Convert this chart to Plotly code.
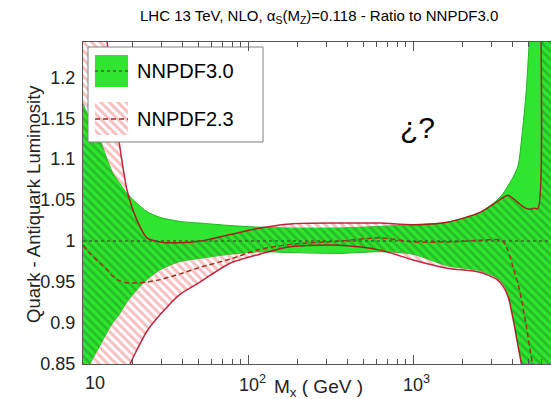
import numpy as np
import plotly.graph_objects as go

# Invariant mass grid (GeV)
mass = [10, 11.0, 12.7, 14.0, 15.0, 16.5, 18.5, 21.3, 24.4, 29.3, 38.7, 51.2,
        77.8, 118, 180, 361, 631, 1000, 1607, 2547, 3228, 3510, 3770, 4040,
        4330, 4580, 4840, 5120, 5410, 5720, 5970, 7500]

# NNPDF3.0 band (ratio to itself)
nnpdf30_lo = [0.830, 0.850, 0.873, 0.889, 0.899, 0.910, 0.926, 0.941, 0.953, 0.965, 0.975, 0.979,
              0.984, 0.987, 0.986, 0.985, 0.987, 0.984, 0.970, 0.964, 0.955, 0.948, 0.935, 0.908,
              0.875, 0.850, 0.820, 0.790, 0.750, 0.700, 0.650, 0.600]
nnpdf30_hi = [1.168, 1.148, 1.123, 1.100, 1.085, 1.072, 1.058, 1.046, 1.036, 1.029, 1.024, 1.022,
              1.019, 1.017, 1.016, 1.016, 1.018, 1.020, 1.023, 1.035, 1.050, 1.058, 1.068, 1.078,
              1.092, 1.130, 1.180, 1.260, 1.350, 1.450, 1.550, 1.700]
nnpdf30_cv = [1.0, 1.0, 1.0, 1.0, 1.0, 1.0, 1.0, 1.0, 1.0, 1.0, 1.0, 1.0,
              1.0, 1.0, 1.0, 1.0, 1.0, 1.0, 1.0, 1.0, 1.0, 1.0, 1.0, 1.0,
              1.0, 1.0, 1.0, 1.0, 1.0, 1.0, 1.0, 1.0]

# NNPDF2.3 band
nnpdf23_lo = [0.720, 0.740, 0.770, 0.790, 0.805, 0.820, 0.842, 0.868, 0.890, 0.910, 0.935, 0.950,
              0.973, 0.984, 0.993, 0.995, 0.989, 0.977, 0.967, 0.962, 0.953, 0.945, 0.932, 0.905,
              0.872, 0.845, 0.800, 0.760, 0.720, 0.680, 0.650, 0.600]
nnpdf23_hi = [1.400, 1.360, 1.300, 1.243, 1.180, 1.123, 1.062, 1.025, 1.004, 0.999, 0.998, 1.000,
              1.008, 1.016, 1.021, 1.022, 1.022, 1.020, 1.023, 1.035, 1.048, 1.053, 1.056, 1.052,
              1.047, 1.043, 1.040, 1.039, 1.040, 1.040, 1.450, 1.700]
nnpdf23_cv = [0.995, 0.985, 0.973, 0.965, 0.958, 0.952, 0.949, 0.949, 0.950, 0.953, 0.960, 0.968,
              0.978, 0.990, 0.996, 1.000, 1.004, 0.999, 0.999, 1.001, 1.002, 1.000, 0.988, 0.968,
              0.948, 0.925, 0.898, 0.868, 0.840, 0.810, 0.790, 0.750]

x_ticks = [10, 100, 1000]
x_minor = [20, 30, 40, 50, 60, 70, 80, 90, 200, 300, 400, 500, 600, 700, 800, 900,
           2000, 3000, 4000, 5000, 6000]
y_ticks = [0.85, 0.9, 0.95, 1.0, 1.05, 1.1, 1.15, 1.2]
y_text = ["0.85", "0.9", "0.95", "1", "1.05", "1.1", "1.15", "1.2"]

GREEN = "#2fe52f"
DKGREEN = "#1c951c"
PINK = "#ee7f7f"
REDLINE = "rgba(185,0,30,0.85)"
FONT = "Arial, Liberation Sans, sans-serif"
SMOOTH = dict(shape="spline", smoothing=0.7)

# overlap of the two bands
ov_lo = np.maximum(nnpdf30_lo, nnpdf23_lo)
ov_hi = np.minimum(nnpdf30_hi, nnpdf23_hi)
ov_hi = np.where(ov_hi < ov_lo, ov_lo, ov_hi)

fig = go.Figure()

# NNPDF3.0 solid band
fig.add_trace(go.Scatter(x=mass, y=nnpdf30_lo, mode="lines",
                         line=dict(color="#22b522", width=1, **SMOOTH), showlegend=False))
fig.add_trace(go.Scatter(x=mass, y=nnpdf30_hi, mode="lines", fill="tonexty",
                         fillcolor=GREEN, line=dict(color="#22b522", width=1, **SMOOTH),
                         showlegend=False))

# NNPDF2.3 hatched band
fig.add_trace(go.Scatter(x=mass, y=nnpdf23_lo, mode="lines",
                         line=dict(width=0, **SMOOTH), showlegend=False))
fig.add_trace(go.Scatter(x=mass, y=nnpdf23_hi, mode="lines", fill="tonexty",
                         fillcolor="rgba(0,0,0,0)", line=dict(width=0, **SMOOTH),
                         fillpattern=dict(shape="\\", fgcolor=PINK, bgcolor="rgba(0,0,0,0)",
                                          size=6, solidity=0.5),
                         showlegend=False))

# hatching on top of the green where the bands overlap
fig.add_trace(go.Scatter(x=mass, y=ov_lo, mode="lines",
                         line=dict(width=0, **SMOOTH), showlegend=False))
fig.add_trace(go.Scatter(x=mass, y=ov_hi, mode="lines", fill="tonexty",
                         fillcolor=GREEN, line=dict(width=0, **SMOOTH),
                         fillpattern=dict(shape="\\", fgcolor=DKGREEN, bgcolor=GREEN,
                                          size=6, solidity=0.45),
                         showlegend=False))

# NNPDF2.3 band edges
for edge in (nnpdf23_lo, nnpdf23_hi):
    fig.add_trace(go.Scatter(x=mass, y=edge, mode="lines",
                             line=dict(color=REDLINE, width=1.5, **SMOOTH), showlegend=False))

# central values
fig.add_trace(go.Scatter(x=mass, y=nnpdf30_cv, mode="lines",
                         line=dict(color="#3a6a2a", width=1.5, dash="dot"), showlegend=False))
fig.add_trace(go.Scatter(x=mass, y=nnpdf23_cv, mode="lines",
                         line=dict(color="#a3301c", width=1.5, dash="5px,3px", **SMOOTH),
                         showlegend=False))

# legend drawn on an overlay frame measured in pixels from the plot's top-left corner
fig.add_trace(go.Scatter(x=[5, 180, 180, 5, 5], y=[5, 5, 100, 100, 5], mode="lines",
                         fill="toself", fillcolor="white", line=dict(color="#808080", width=1),
                         xaxis="x2", yaxis="y2", showlegend=False))
fig.add_trace(go.Scatter(x=[12, 45, 45, 12, 12], y=[13, 13, 45, 45, 13], mode="lines",
                         fill="toself", fillcolor=GREEN, line=dict(width=0),
                         xaxis="x2", yaxis="y2", showlegend=False))
fig.add_trace(go.Scatter(x=[12, 45], y=[29, 29], mode="lines",
                         line=dict(color="#3a6a2a", width=1.5, dash="dot"),
                         xaxis="x2", yaxis="y2", showlegend=False))
fig.add_trace(go.Scatter(x=[12, 45, 45, 12, 12], y=[60, 60, 93, 93, 60], mode="lines",
                         fill="toself", fillcolor="rgba(0,0,0,0)", line=dict(width=0),
                         fillpattern=dict(shape="\\", fgcolor=PINK, bgcolor="rgba(0,0,0,0)",
                                          size=6, solidity=0.5),
                         xaxis="x2", yaxis="y2", showlegend=False))
fig.add_trace(go.Scatter(x=[12, 45], y=[77, 77], mode="lines",
                         line=dict(color="#b0202a", width=1.5, dash="5px,3px"),
                         xaxis="x2", yaxis="y2", showlegend=False))

W, H = 551, 399
L, R, T, B = 83, 0, 42, 35
pw, ph = W - L - R, H - T - B

annotations = [
    dict(text="NNPDF3.0", x=52, y=29, xref="x2", yref="y2", xanchor="left", yanchor="middle",
         showarrow=False, font=dict(family=FONT, size=20, color="black")),
    dict(text="NNPDF2.3", x=52, y=77, xref="x2", yref="y2", xanchor="left", yanchor="middle",
         showarrow=False, font=dict(family=FONT, size=20, color="black")),
    dict(text="LHC 13 TeV, NLO, α<sub>S</sub>(M<sub>Z</sub>)=0.118 - Ratio to NNPDF3.0",
         x=(319 - L) / pw, y=(H - B - 17) / ph, xref="paper", yref="paper",
         xanchor="center", yanchor="middle", showarrow=False,
         font=dict(family=FONT, size=15, color="black")),
    dict(text="Quark - Antiquark Luminosity", textangle=-90,
         x=(33 - L) / pw, y=0.5, yshift=-1, xref="paper", yref="paper",
         xanchor="center", yanchor="middle", showarrow=False,
         font=dict(family=FONT, size=18.5, color="#222")),
    dict(text="¿?", x=(417 - L) / pw, y=(H - B - 128) / ph, xref="paper", yref="paper",
         xanchor="center", yanchor="middle", showarrow=False,
         font=dict(family=FONT, size=30, color="black")),
    dict(text="M<sub>x</sub> ( GeV )", x=(272 - L) / pw, y=(H - B - 388) / ph,
         xref="paper", yref="paper", xanchor="left", yanchor="middle", showarrow=False,
         font=dict(family=FONT, size=19, color="#222")),
]
# x tick labels
for v, txt, shift in [(10, "10", 0), (100, "10<sup>2</sup>", -11), (1000, "10<sup>3</sup>", -12)]:
    annotations.append(dict(text=txt, x=np.log10(v), y=(H - B - 383) / ph, xref="x", yref="paper",
                            xanchor="left", yanchor="middle", xshift=shift, showarrow=False,
                            font=dict(family=FONT, size=18, color="#222")))

fig.update_layout(
    width=W, height=H,
    margin=dict(l=L, r=R, t=T, b=B, pad=0),
    paper_bgcolor="white", plot_bgcolor="white",
    showlegend=False,
    xaxis=dict(type="log", range=[1, 1 + pw / 165],
               showline=True, linecolor="#555", linewidth=1, mirror="ticks",
               ticks="inside", ticklen=9, tickcolor="#555", tickvals=x_ticks,
               showticklabels=False, showgrid=False, zeroline=False,
               minor=dict(tickvals=x_minor, ticks="inside", ticklen=5, tickcolor="#555",
                          showgrid=False)),
    yaxis=dict(range=[0.85, 1.243], showline=True, linecolor="#555", linewidth=1,
               mirror=False, ticks="", tickvals=y_ticks, ticktext=y_text,
               tickfont=dict(family=FONT, size=18, color="#222"),
               ticklabelstandoff=3, showgrid=False, zeroline=False),
    xaxis2=dict(overlaying="x", anchor="y2", range=[0, pw], visible=False),
    yaxis2=dict(overlaying="y", anchor="x2", range=[ph, 0], visible=False),
    annotations=annotations,
)

fig.write_html("out.html")
